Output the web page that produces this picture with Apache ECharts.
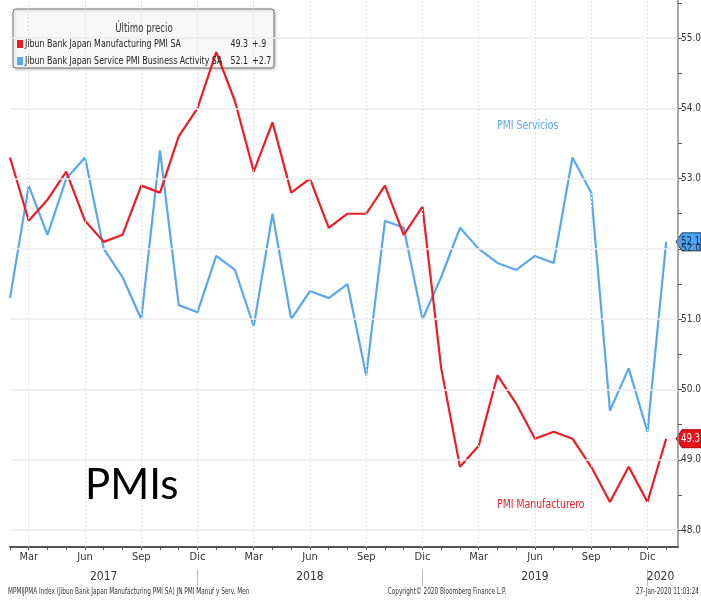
<!DOCTYPE html>
<html>
<head>
<meta charset="utf-8">
<script src="https://cdn.jsdelivr.net/npm/echarts@6/dist/echarts.min.js"></script>
<style>
  html, body { margin: 0; padding: 0; background: #fff; }
  #chart { width: 701px; height: 602px; }
</style>
</head>
<body>
<div id="chart"></div>
<script>
// monthly readings, Feb 2017 .. Jan 2020
var months = ['Feb 17','Mar 17','Apr 17','May 17','Jun 17','Jul 17','Aug 17','Sep 17','Oct 17','Nov 17','Dec 17',
  'Jan 18','Feb 18','Mar 18','Apr 18','May 18','Jun 18','Jul 18','Aug 18','Sep 18','Oct 18','Nov 18','Dec 18',
  'Jan 19','Feb 19','Mar 19','Apr 19','May 19','Jun 19','Jul 19','Aug 19','Sep 19','Oct 19','Nov 19','Dec 19',
  'Jan 20'];
var manufacturing = [53.3, 52.4, 52.7, 53.1, 52.4, 52.1, 52.2, 52.9, 52.8, 53.6, 54.0,
  54.8, 54.1, 53.1, 53.8, 52.8, 53.0, 52.3, 52.5, 52.5, 52.9, 52.2, 52.6,
  50.3, 48.9, 49.2, 50.2, 49.8, 49.3, 49.4, 49.3, 48.9, 48.4, 48.9, 48.4,
  49.3];
var services = [51.3, 52.9, 52.2, 53.0, 53.3, 52.0, 51.6, 51.0, 53.4, 51.2, 51.1,
  51.9, 51.7, 50.9, 52.5, 51.0, 51.4, 51.3, 51.5, 50.2, 52.4, 52.3, 51.0,
  51.6, 52.3, 52.0, 51.8, 51.7, 51.9, 51.8, 53.3, 52.8, 49.7, 50.3, 49.4,
  52.1];

// x tick labels (index into months)
var quarterPos = [1, 4, 7, 10, 13, 16, 19, 22, 25, 28, 31, 34];
var quarterLabels = ['Mar','Jun','Sep','Dic','Mar','Jun','Sep','Dic','Mar','Jun','Sep','Dic'];
var yearPos = [5, 16, 28, 34.7];
var yearLabels = ['2017', '2018', '2019', '2020'];
var yearBreaks = [10, 22, 34];
var monthTicks = months.map(function (m, i) { return i; });

// y ticks
var yLabels = [48, 49, 50, 51, 52, 53, 54, 55];
var yMinor = [48, 48.5, 49, 49.5, 50, 50.5, 51, 51.5, 52, 52.5, 53, 53.5, 54, 54.5, 55, 55.5];

var lastManuf = 49.3, chgManuf = '+.9';
var lastServ = 52.1, chgServ = '+2.7';

var RED = '#ec1c24';
var BLUE = '#58a8ef';
var NARROW = "'Liberation Sans Narrow', 'DejaVu Sans Condensed', 'Liberation Sans', sans-serif";
var SQ = 0.8; // horizontal squeeze to mimic the condensed Bloomberg font

var myChart = echarts.init(document.getElementById('chart'));

var option = {
  animation: false,
  backgroundColor: '#fff',
  grid: { left: 10, right: 23, top: 0, bottom: 55, containLabel: false, outerBoundsMode: 'none' },
  xAxis: [{
    type: 'value', min: 0, max: 35.63,
    axisLine: { onZero: false, lineStyle: { color: '#555', width: 2 } },
    axisTick: { customValues: monthTicks, length: 3, lineStyle: { color: '#555' } },
    axisLabel: {
      customValues: quarterPos, margin: 5,
      fontFamily: NARROW, fontSize: 11, color: '#333',
      formatter: function (v) { return quarterLabels[quarterPos.indexOf(v)]; }
    },
    splitLine: { show: false }
  }, {
    type: 'value', min: 0, max: 35.63, position: 'bottom', offset: 22,
    axisLine: { show: false, onZero: false },
    axisTick: { customValues: yearBreaks, length: 17, lineStyle: { color: '#bbb' } },
    axisLabel: {
      customValues: yearPos, margin: 2,
      fontFamily: NARROW, fontSize: 12, color: '#333',
      formatter: function (v) { return yearLabels[yearPos.indexOf(v)]; }
    },
    splitLine: { show: false }
  }],
  yAxis: {
    type: 'value', position: 'right', min: 47.76, max: 55.54,
    axisLine: { show: true, onZero: false, lineStyle: { color: '#888', width: 1.5 } },
    axisTick: { customValues: yMinor, length: 4, lineStyle: { color: '#555' } },
    axisLabel: {
      customValues: yLabels, margin: 3,
      fontFamily: NARROW, fontSize: 10, color: '#333',
      formatter: function (v) { return v.toFixed(1); }
    },
    splitLine: { show: false }
  },
  series: [{
    type: 'line', data: [], z: 1, silent: true,
    markLine: {
      silent: true, symbol: 'none', label: { show: false }, animation: false,
      data: yLabels.map(function (v) {
        return { yAxis: v, lineStyle: { color: '#ebebeb', type: 'solid', width: 1.5 } };
      }).concat(quarterPos.map(function (v) {
        return { xAxis: v, lineStyle: { color: '#e2e2e2', type: [2, 2], width: 1 } };
      }))
    }
  }, {
    name: 'Jibun Bank Japan Service PMI Business Activity SA',
    type: 'line', z: 3, showSymbol: false, silent: true,
    lineStyle: { color: BLUE, width: 2.2 },
    data: services.map(function (v, i) { return [i, v]; })
  }, {
    name: 'Jibun Bank Japan Manufacturing PMI SA',
    type: 'line', z: 4, showSymbol: false, silent: true,
    lineStyle: { color: RED, width: 2.2 },
    data: manufacturing.map(function (v, i) { return [i, v]; })
  }]
};

myChart.setOption(option);

function txt(x, y, text, font, fill, align, z) {
  return {
    type: 'text', x: x, y: y, scaleX: SQ, z: z || 5,
    style: { text: text, align: align || 'left', verticalAlign: 'middle', font: font, fill: fill }
  };
}

function tag(value, fill, stroke, textColor) {
  var y = myChart.convertToPixel({ yAxisIndex: 0 }, value);
  return {
    type: 'group', x: 676, y: y, z: 20,
    children: [{
      type: 'polygon',
      shape: { points: [[0, 0], [6, -9], [25, -9], [25, 9], [6, 9]] },
      style: { fill: fill, stroke: stroke, lineWidth: 1 }
    }, txt(14.5, 0, value.toFixed(1), '12px ' + NARROW, textColor, 'center')]
  };
}

var legendFont = '11px ' + NARROW;

myChart.setOption({
  graphic: [{
    type: 'group', x: 13, y: 9, z: 0,
    children: [{
      type: 'rect', shape: { x: 0, y: 0, width: 261, height: 59, r: 3 },
      style: { fill: '#f8f8f8', stroke: '#777', lineWidth: 1,
        shadowBlur: 3, shadowColor: 'rgba(0,0,0,0.25)', shadowOffsetX: 1, shadowOffsetY: 1 }
    },
    txt(131, 20, 'Último precio', '12px ' + NARROW, '#333', 'center'),
    { type: 'rect', shape: { x: 4, y: 31, width: 6, height: 8 }, style: { fill: RED } },
    txt(12, 35, 'Jibun Bank Japan Manufacturing PMI SA', legendFont, '#222'),
    txt(235, 35, lastManuf.toFixed(1), legendFont, '#222', 'right'),
    txt(239, 35, chgManuf, legendFont, '#222'),
    { type: 'rect', shape: { x: 4, y: 48, width: 6, height: 8 }, style: { fill: BLUE } },
    txt(12, 52, 'Jibun Bank Japan Service PMI Business Activity SA', legendFont, '#222'),
    txt(235, 52, lastServ.toFixed(1), legendFont, '#222', 'right'),
    txt(239, 52, chgServ, legendFont, '#222')]
  },
  txt(497, 126, 'PMI Servicios', '13px ' + NARROW, BLUE),
  txt(497, 505, 'PMI Manufacturero', '13px ' + NARROW, RED),
  {
    type: 'text', x: 85, y: 485, z: 5,
    style: { text: 'PMIs', verticalAlign: 'middle', font: '42px Lato, Carlito, sans-serif', fill: '#000' }
  },
  txt(8, 592, 'MPMIJPMA Index (Jibun Bank Japan Manufacturing PMI SA) JN PMI Manuf y Serv. Men', '8px ' + NARROW, '#333'),
  txt(447, 592, 'Copyright\u00a9 2020 Bloomberg Finance L.P.', '8px ' + NARROW, '#333', 'center'),
  txt(699, 592, '27-Jan-2020 11:03:24', '8px ' + NARROW, '#333', 'right'),
  tag(lastServ, '#4fa3f0', '#1d3f73', '#0d2a55'),
  tag(lastManuf, '#e8101a', '#b00000', '#fff')]
});
</script>
</body>
</html>
